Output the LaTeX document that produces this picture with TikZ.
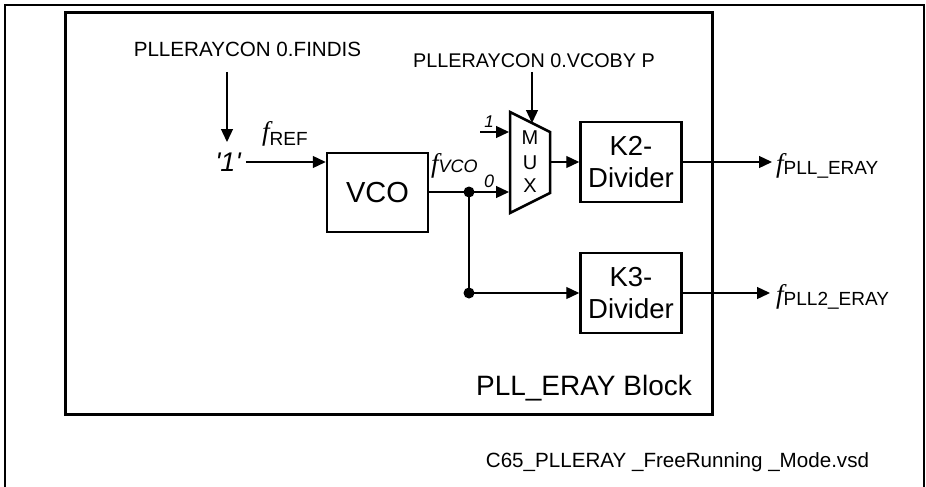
\documentclass[tikz,border=0pt]{standalone}
\usepackage{fontspec}
\setmainfont{Liberation Sans}
\newfontfamily\seriffam{Liberation Serif}
\newfontfamily\rawsans[Ligatures=TeXOff]{Liberation Sans}
\usetikzlibrary{arrows.meta}
\newcommand{\fsz}[1]{\fontsize{#1}{#1}\selectfont}
\newcommand{\myf}{{\seriffam\itshape\fsz{27}f}}
\begin{document}
\begin{tikzpicture}[x=1pt,y=-1pt,
  conn/.style={line width=1.3pt},
  arr/.style={line width=1.3pt,-{Triangle[length=13pt,width=12pt]}},
  box/.style={draw,line width=2.5pt,inner sep=0pt,align=center,minimum width=101pt,minimum height=80pt},
  txt/.style={inner sep=0pt},
  lbl/.style={inner sep=0pt,anchor=base west},
  dot/.style={circle,fill,inner sep=0pt,minimum size=11pt}]
\useasboundingbox (0,0) rectangle (926,487);
% outer frame
\draw[line width=2.5pt] (5,492) -- (5,5) -- (924,5) -- (924,492);
% block
\node[draw,line width=3pt,inner sep=0pt,minimum width=646.5pt,minimum height=401.5pt] (block) at (388.75,213.25) {};
\node[txt,font=\fsz{28}] (blocklbl) at (584,388) {PLL\_ERAY Block};
\node[txt,font=\fsz{20.6}] (fname) at (677.5,462.5) {C65\_PLLERAY \_FreeRunning \_Mode.vsd};
% control texts
\node[txt,font=\fsz{20.6}] (findis) at (247.5,49.5) {PLLERAYCON 0.FINDIS};
\node[txt,font=\fsz{19.8}] (vcobyp) at (534,60.5) {PLLERAYCON 0.VCOBY P};
% input '1'
\node[txt,font=\fsz{27}\rawsans\itshape] (one) at (228,162) {'1'};
% boxes
\node[box,font=\fsz{29},minimum height=79pt] (vco) at (377.5,192.5) {VCO};
\node[box,font=\fontsize{27.5}{32}\selectfont] (k2) at (631,162) {K2-\\Divider};
\node[box,font=\fontsize{27.5}{32}\selectfont] (k3) at (631,293) {K3-\\Divider};
% mux
\coordinate (mtl) at (510,112);
\coordinate (mtr) at (550,132);
\coordinate (mbr) at (550,193);
\coordinate (mbl) at (510,213);
\draw[line width=2.5pt,line join=miter] (mtl) -- (mtr) -- (mbr) -- (mbl) -- cycle;
\node[txt,font=\fsz{20}] (mM) at (530,138) {M};
\node[txt,font=\fsz{20}] (mU) at (530,162.5) {U};
\node[txt,font=\fsz{20}] (mX) at (530,185.5) {X};
\coordinate (mux1) at (509,132);
\coordinate (mux0) at (509,192);
\coordinate (muxtop) at (532,123);
\coordinate (muxout) at (551,162);
% labels
\node[txt,font=\fsz{17}\itshape] (lab1) at (489,122) {1};
\node[txt,font=\fsz{18}\itshape] (lab0) at (489,181) {0};
\node[lbl] (fref) at (262,140) {\myf\raisebox{-5pt}{\fsz{19}REF}};
\node[lbl] (fvco) at (431,172) {\myf{\fsz{18}\itshape VCO}};
\node[lbl] (fpll) at (776,172) {\myf\raisebox{-2pt}{\fsz{19}PLL\_ERAY}};
\node[lbl] (fpll2) at (776,303) {\myf\raisebox{-2pt}{\fsz{19}PLL2\_ERAY}};
% coordinates
\coordinate (fin1) at (227,72);
\coordinate (fin2) at (227,142);
\coordinate (byp1) at (532,72);
\coordinate (in1) at (480,132);
\coordinate (out1) at (772,162);
\coordinate (out2) at (770,293);
\node[dot] (dot1) at (469,192) {};
\node[dot] (dot2) at (469,293) {};
% connectors
\draw[arr] (fin1) -- (fin2);
\draw[arr] ([xshift=5pt]one.east) -- (vco.west |- one.east);
\draw[conn] (vco.east |- dot1) -- (dot1.center);
\draw[arr] (dot1.center) -- (mux0);
\draw[conn] (dot1.center) -- (dot2.center);
\draw[arr] (dot2.center) -- (k3.west);
\draw[arr] (in1) -- (mux1);
\draw[arr] (byp1) -- (muxtop);
\draw[arr] (muxout) -- (k2.west |- muxout);
\draw[arr] (k2.east) -- (out1);
\draw[arr] (k3.east) -- (out2);
\end{tikzpicture}
\end{document}
